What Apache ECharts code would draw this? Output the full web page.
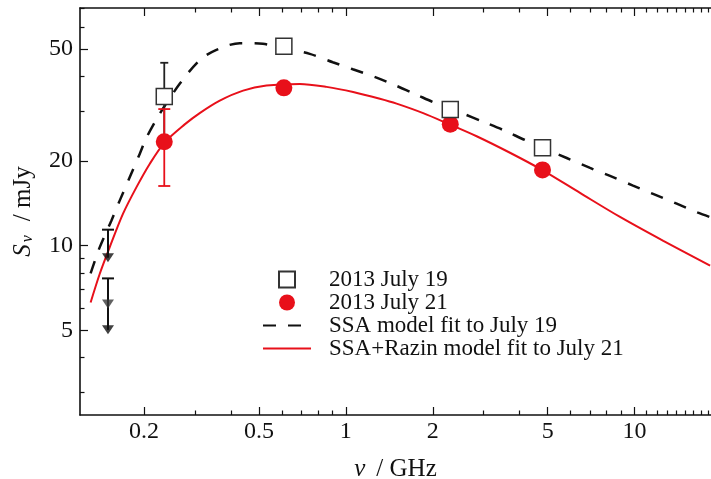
<!DOCTYPE html>
<html>
<head>
<meta charset="utf-8">
<script src="https://cdn.jsdelivr.net/npm/echarts@6/dist/echarts.min.js"></script>
<style>
html,body{margin:0;padding:0;background:#fff;}
#chart{width:711px;height:479px;}
</style>
</head>
<body>
<div id="chart"></div>
<script>
// ---- data ----
const dataFreq = [0.235, 0.61, 2.3, 4.8];            // GHz
const fluxJuly19 = [33.9, 51.2, 30.5, 22.3];         // mJy
const fluxJuly21 = [23.4, 36.4, 27.0, 18.6];         // mJy
const errFreq = [0.235];
const errLowJuly19 = [23.1];
const errHighJuly19 = [44.7];
const errLowJuly21 = [16.3];
const errHighJuly21 = [30.6];
const limitFreq = [0.15, 0.15];
const limitTop = [11.4, 7.65];
const limitBottom = [9.06, 5.02];
const arrowFreq = [0.15, 0.15, 0.15];
const arrowFlux = [9.06, 6.2, 5.02];

const ssaFreq = [0.1306,0.1404,0.1541,0.1647,0.1784,0.1932,0.2042,0.2266,0.2658,0.3118,0.3563,0.4292,0.5158,0.61,0.750,0.901,1.057,1.277,1.499,1.759,2.063,2.544,2.985,3.501,4.230,5.821,7.014,8.225,9.88,11.59,14.0,16.6,18.4];
const ssaFlux = [7.97,9.86,12.27,14.46,17.50,21.2,24.29,29.43,37.62,45.7,49.7,52.5,52.2,50.4,48.1,44.9,42.4,39.6,37.0,34.4,32.0,29.5,27.6,25.8,23.6,20.5,18.9,17.7,16.35,15.28,14.1,13.1,12.6];

const razinFreq = [0.1306,0.1404,0.152,0.169,0.1881,0.2092,0.2358,0.2766,0.3118,0.3659,0.4406,0.5310,0.6929,0.8573,1.060,1.312,1.499,1.853,2.294,2.838,3.703,4.779,6.474,8.907,12.58,18.27];
const razinFlux = [6.28,7.93,9.86,12.97,16.12,19.53,23.31,27.0,29.62,32.8,35.6,37.1,37.6,36.7,35.2,33.3,32.0,29.6,26.96,24.5,21.4,18.6,15.4,12.65,10.4,8.49];

const xMajorTicks = [0.2, 0.5, 1, 2, 5, 10];
const xMinorTicks = [0.3,0.4,0.6,0.7,0.8,0.9,3,4,6,7,8,9,11,12,13,14,15,16,17,18];
const yMajorTicks = [5, 10, 20, 50];
const yMinorTicks = [3,4,6,7,8,9,30,40,60,70];

const names = ['2013 July 19', '2013 July 21', 'SSA model fit to July 19', 'SSA+Razin model fit to July 21'];

// ---- chart ----
const FONT = '"Liberation Serif", "Times New Roman", serif';
const RED = '#e8101a';
const INK = '#111';
const X_MIN = 0.12, X_MAX = 18.4, Y_MIN = 2.5, Y_MAX = 70;

const zip = (a, b) => a.map((v, i) => [v, b[i]]);
const zip3 = (a, b, c) => a.map((v, i) => [v, b[i], c[i]]);

function xAxisDef(pos, ticks, len, labels, withLine) {
  return {
    type: 'log', min: X_MIN, max: X_MAX, position: pos, gridIndex: 0,
    axisLine: {show: withLine, onZero: false, lineStyle: {color: INK, width: 1.6}},
    axisTick: {show: true, inside: true, length: len, customValues: ticks, lineStyle: {color: INK, width: 1.2}},
    axisLabel: labels ? {show: true, customValues: ticks, fontSize: 24, fontFamily: FONT, color: INK, margin: 5,
      formatter: v => String(+(+v).toPrecision(6))} : {show: false},
    splitLine: {show: false}, minorTick: {show: false}, minorSplitLine: {show: false}
  };
}
function yAxisDef(ticks, len, labels, withLine) {
  return {
    type: 'log', min: Y_MIN, max: Y_MAX, position: 'left', gridIndex: 0,
    axisLine: {show: withLine, onZero: false, lineStyle: {color: INK, width: 1.6}},
    axisTick: {show: true, inside: true, length: len, customValues: ticks, lineStyle: {color: INK, width: 1.2}},
    axisLabel: labels ? {show: true, customValues: ticks, fontSize: 24, fontFamily: FONT, color: INK, margin: 7,
      formatter: v => String(+(+v).toPrecision(6))} : {show: false},
    splitLine: {show: false}, minorTick: {show: false}, minorSplitLine: {show: false}
  };
}

const xAxes = [
  xAxisDef('bottom', xMajorTicks, 8, true, true),
  xAxisDef('bottom', xMinorTicks, 4.5, false, false),
  xAxisDef('top', xMajorTicks, 8, false, true),
  xAxisDef('top', xMinorTicks, 4.5, false, false)
];
xAxes[0].name = '{i|ν}{t|/ GHz}';
xAxes[0].nameLocation = 'middle';
xAxes[0].nameGap = 42;
xAxes[0].nameTextStyle = {fontSize: 25, fontFamily: FONT, color: INK,
  rich: {
    i: {fontStyle: 'italic', fontSize: 25, fontFamily: FONT, color: INK, padding: [0, 11, 0, 0]},
    t: {fontSize: 25, fontFamily: FONT, color: INK}
  }};

const yAxes = [
  yAxisDef(yMajorTicks, 8, true, true),
  yAxisDef(yMinorTicks, 4.5, false, false)
];
yAxes[0].name = '{i|S}{s|ν}{t|/ mJy}';
yAxes[0].nameLocation = 'middle';
yAxes[0].nameGap = 44;
yAxes[0].nameTextStyle = {fontSize: 25, fontFamily: FONT, color: INK,
  rich: {
    i: {fontStyle: 'italic', fontSize: 25, fontFamily: FONT, color: INK, lineHeight: 25, verticalAlign: 'bottom'},
    s: {fontStyle: 'italic', fontSize: 16, fontFamily: FONT, color: INK, lineHeight: 16, verticalAlign: 'bottom', padding: [0, 14, 0, 2]},
    t: {fontSize: 25, fontFamily: FONT, color: INK, lineHeight: 25, verticalAlign: 'bottom'}
  }};

function errRender(color, capHalf, lw, capTopOnly) {
  return function (params, api) {
    const x = api.value(0), a = api.value(1), b = api.value(2);
    const p1 = api.coord([x, a]);
    const p2 = api.coord([x, b]);
    const st = {stroke: color, lineWidth: lw};
    const ch = [
      {type: 'line', shape: {x1: p1[0], y1: p1[1], x2: p2[0], y2: p2[1]}, style: st},
      {type: 'line', shape: {x1: p1[0] - capHalf, y1: p1[1], x2: p1[0] + capHalf, y2: p1[1]}, style: st}
    ];
    if (!capTopOnly) {
      ch.push({type: 'line', shape: {x1: p2[0] - capHalf, y1: p2[1], x2: p2[0] + capHalf, y2: p2[1]}, style: st});
    }
    return {type: 'group', children: ch};
  };
}

const hiddenSymbol = {color: 'rgba(0,0,0,0)', borderWidth: 0, opacity: 0};

const option = {
  animation: false,
  backgroundColor: '#ffffff',
  textStyle: {fontFamily: FONT},
  grid: {left: 80, right: 0, top: 8, bottom: 64, containLabel: false, outerBoundsMode: 'none'},
  legend: {
    orient: 'vertical', left: 262, top: 268, padding: 0,
    itemWidth: 48, itemHeight: 16, itemGap: 0,
    symbolKeepAspect: true,
    data: [
      {name: names[0], icon: 'path://M0,0L10,0L10,10L0,10Z'},
      {name: names[1]},
      {name: names[2], itemStyle: hiddenSymbol},
      {name: names[3], itemStyle: hiddenSymbol}
    ],
    textStyle: {fontSize: 23, fontFamily: FONT, color: INK, padding: [0, 0, 0, 13]},
    selectedMode: false
  },
  xAxis: xAxes,
  yAxis: yAxes,
  series: [
    {
      name: names[2], type: 'line', xAxisIndex: 0, yAxisIndex: 0, z: 2,
      data: zip(ssaFreq, ssaFlux), symbol: 'none', smooth: 0.3,
      lineStyle: {color: INK, width: 2.5, type: [13, 12]}, itemStyle: {color: INK}
    },
    {
      name: names[3], type: 'line', xAxisIndex: 0, yAxisIndex: 0, z: 2,
      data: zip(razinFreq, razinFlux), symbol: 'none', smooth: 0.3,
      lineStyle: {color: RED, width: 2}, itemStyle: {color: RED}
    },
    {
      name: 'err19', type: 'custom', xAxisIndex: 0, yAxisIndex: 0, z: 3,
      renderItem: errRender('#222', 4, 1.8, false),
      encode: {x: 0, y: [1, 2]},
      data: zip3(errFreq, errHighJuly19, errLowJuly19)
    },
    {
      name: 'err21', type: 'custom', xAxisIndex: 0, yAxisIndex: 0, z: 3,
      renderItem: errRender(RED, 6, 1.8, false),
      encode: {x: 0, y: [1, 2]},
      data: zip3(errFreq, errHighJuly21, errLowJuly21)
    },
    {
      name: 'limits', type: 'custom', xAxisIndex: 0, yAxisIndex: 0, z: 3,
      renderItem: errRender(INK, 6, 2, true),
      encode: {x: 0, y: [1, 2]},
      data: zip3(limitFreq, limitTop, limitBottom)
    },
    {
      name: 'arrows', type: 'scatter', xAxisIndex: 0, yAxisIndex: 0, z: 4,
      data: zip(arrowFreq, arrowFlux).map((d, i) => ({value: d, itemStyle: {color: i === 1 ? '#3a3a3a' : INK}})),
      symbol: 'triangle', symbolRotate: 180, symbolSize: [12, 9],
      itemStyle: {color: INK}
    },
    {
      name: names[1], type: 'scatter', xAxisIndex: 0, yAxisIndex: 0, z: 5,
      data: zip(dataFreq, fluxJuly21), symbol: 'circle', symbolSize: 17,
      itemStyle: {color: RED, opacity: 1}
    },
    {
      name: names[0], type: 'scatter', xAxisIndex: 0, yAxisIndex: 0, z: 6,
      data: zip(dataFreq, fluxJuly19), symbol: 'rect', symbolSize: 16,
      itemStyle: {color: '#ffffff', borderColor: '#333', borderWidth: 1.5, opacity: 1}
    }
  ]
};

const chart = echarts.init(document.getElementById('chart'), null, {renderer: 'canvas'});
chart.setOption(option);
</script>
</body>
</html>
